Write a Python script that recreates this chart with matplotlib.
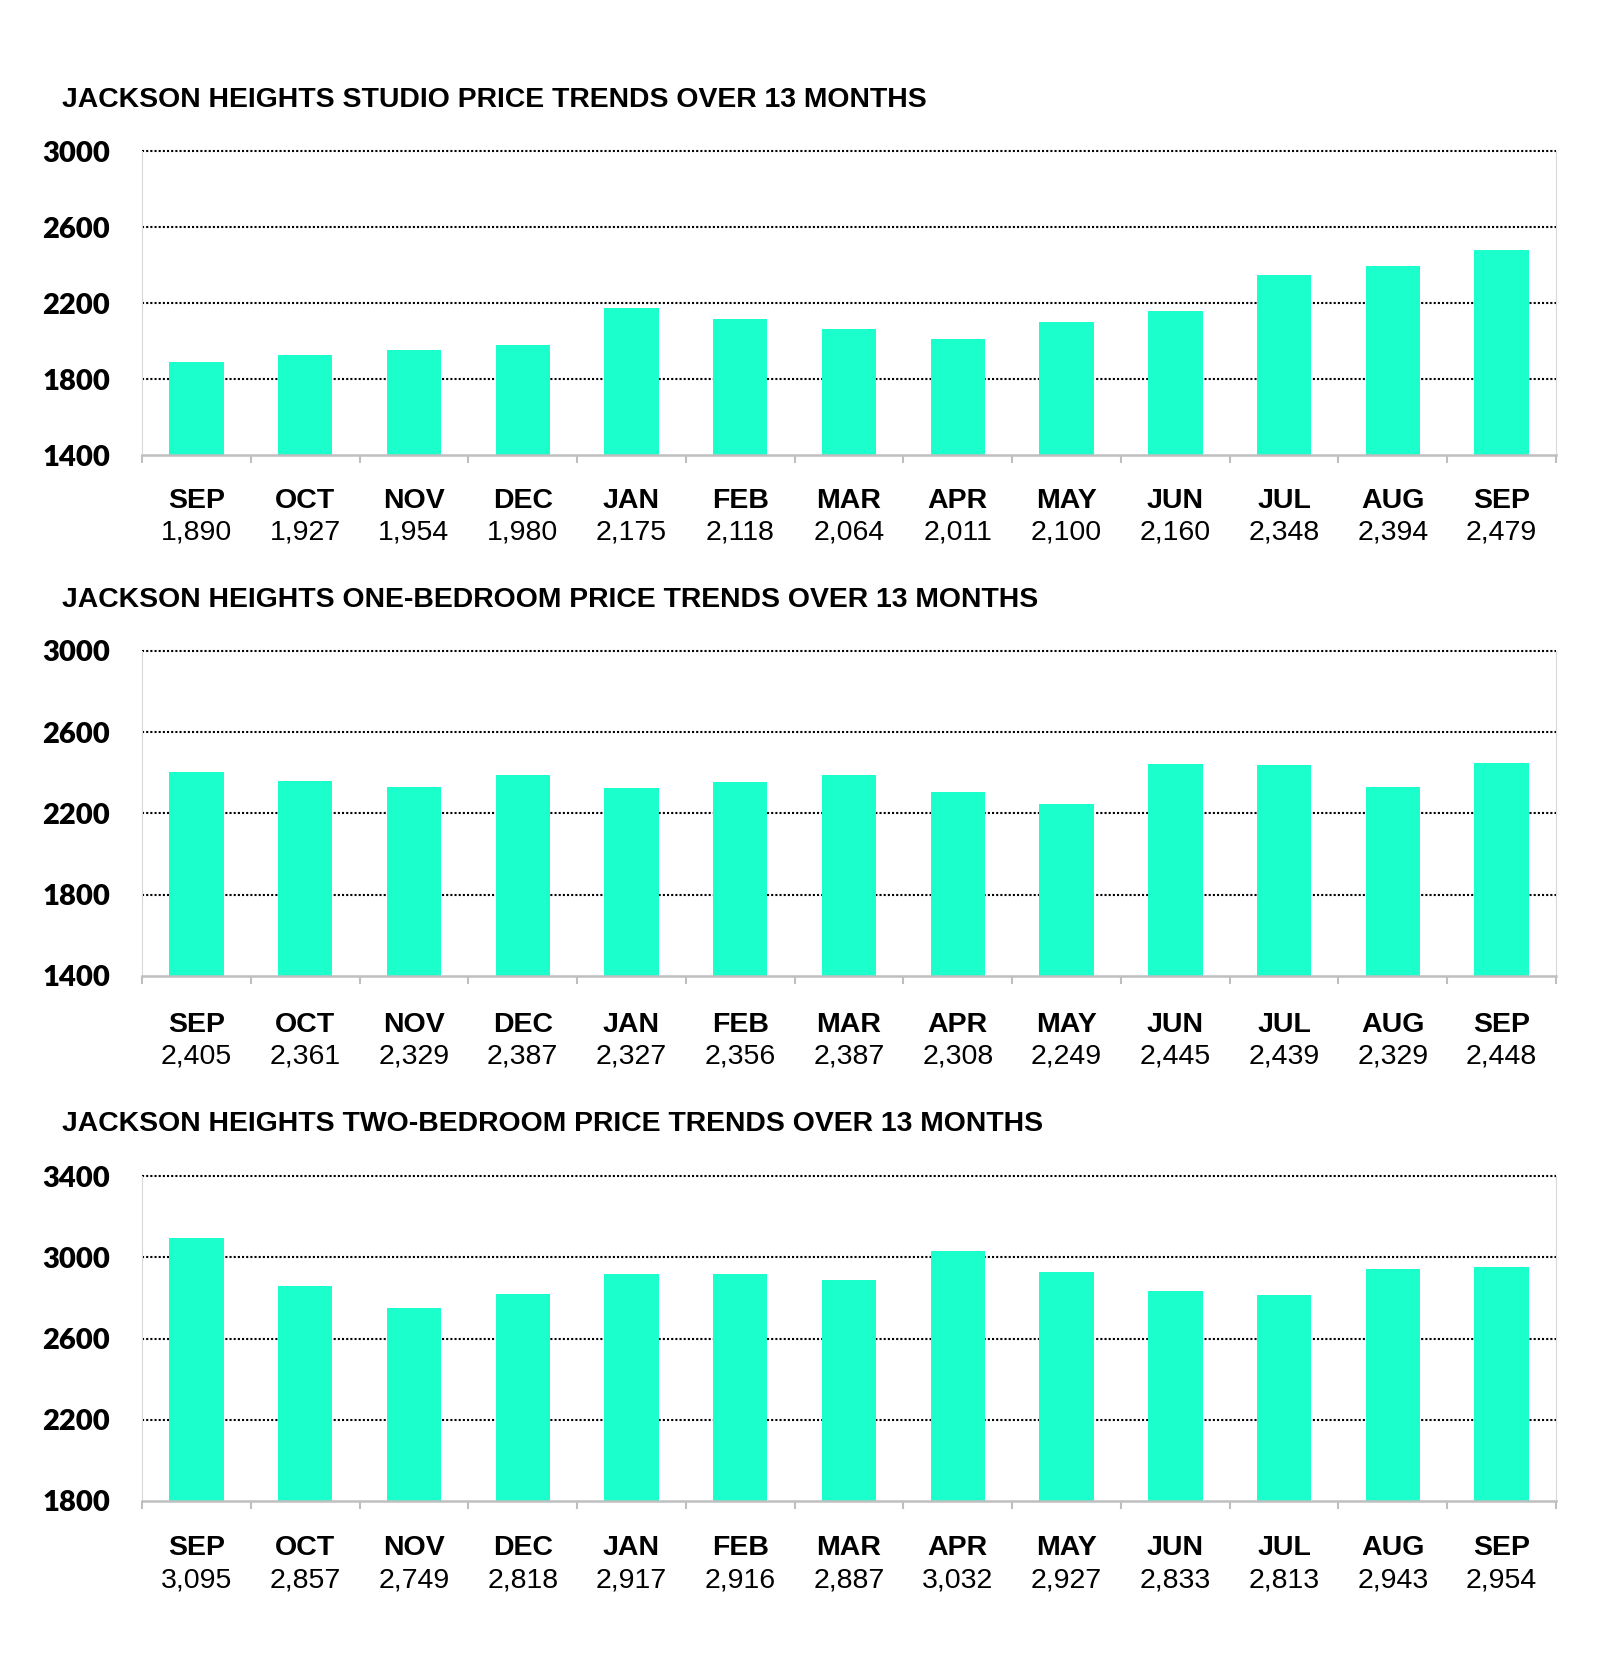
import matplotlib
matplotlib.use('Agg')
import numpy as np
import matplotlib.pyplot as plt

# 数据
months = ['SEP', 'OCT', 'NOV', 'DEC', 'JAN', 'FEB', 'MAR', 'APR', 'MAY', 'JUN', 'JUL', 'AUG', 'SEP']
studio = [1890, 1927, 1954, 1980, 2175, 2118, 2064, 2011, 2100, 2160, 2348, 2394, 2479]
one_bed = [2405, 2361, 2329, 2387, 2327, 2356, 2387, 2308, 2249, 2445, 2439, 2329, 2448]
two_bed = [3095, 2857, 2749, 2818, 2917, 2916, 2887, 3032, 2927, 2833, 2813, 2943, 2954]

titles = ['JACKSON HEIGHTS STUDIO PRICE TRENDS OVER 13 MONTHS',
          'JACKSON HEIGHTS ONE-BEDROOM PRICE TRENDS OVER 13 MONTHS',
          'JACKSON HEIGHTS TWO-BEDROOM PRICE TRENDS OVER 13 MONTHS']
y_ticks = [[1400, 1800, 2200, 2600, 3000],
           [1400, 1800, 2200, 2600, 3000],
           [1800, 2200, 2600, 3000, 3400]]
series = [studio, one_bed, two_bed]

bar_color = '#1BFFCC'
grid_color = '#D9D9D9'

fig = plt.figure(figsize=(16, 16.7), dpi=100)

# 每个子图位置 [left, bottom, width, height]
boxes = [[0.08875, 0.7275, 0.88375, 0.182],
         [0.08875, 0.4156, 0.88375, 0.1946],
         [0.08875, 0.1012, 0.88375, 0.1946]]
title_y = [0.9400, 0.6406, 0.3268]
label_off = [(-33, -56), (-35, -58), (-34, -57)]

for k in range(3):
    ax = fig.add_axes(boxes[k])
    x = np.arange(len(months))
    ticks = y_ticks[k]

    # 虚线网格
    ax.hlines(ticks[1:], -0.5, len(months) - 0.5, colors='black',
              linestyles=(0, (1, 1)), linewidth=1.5, zorder=1, clip_on=False)
    ax.bar(x, series[k], width=0.5, color=bar_color, zorder=2)

    ax.set_xlim(-0.5, len(months) - 0.5)
    ax.set_ylim(ticks[0], ticks[-1])
    ax.set_yticks(ticks)
    ax.set_yticklabels([str(t) for t in ticks], fontsize=21, fontweight='heavy',
                       family='Lato')
    ax.tick_params(axis='y', length=0, pad=23)

    # 类别分隔刻度
    ax.set_xticks([])
    ax.set_xticks(np.arange(-0.5, len(months), 1.0), minor=True)
    ax.tick_params(axis='x', which='minor', length=6, width=1.5, color='#BFBFBF')

    ax.spines['top'].set_visible(False)
    ax.spines['left'].set_color(grid_color)
    ax.spines['right'].set_color(grid_color)
    ax.spines['bottom'].set_color('#BFBFBF')
    ax.spines['bottom'].set_linewidth(1.8)

    # 月份和数值
    for xi, m, v in zip(x, months, series[k]):
        ax.annotate(m, (xi, 0), xycoords=('data', 'axes fraction'),
                    xytext=(0, label_off[k][0]), textcoords='offset points',
                    ha='center', va='center', fontsize=20.5, fontweight='bold',
                    family='Liberation Sans')
        ax.annotate(f'{v:,}', (xi, 0), xycoords=('data', 'axes fraction'),
                    xytext=(0, label_off[k][1]), textcoords='offset points',
                    ha='center', va='center', fontsize=20.5,
                    family='Liberation Sans')

    fig.text(0.039, title_y[k], titles[k], ha='left', va='center',
             fontsize=20.4, fontweight='bold', family='Liberation Sans')

plt.savefig('out.png', dpi=100)
